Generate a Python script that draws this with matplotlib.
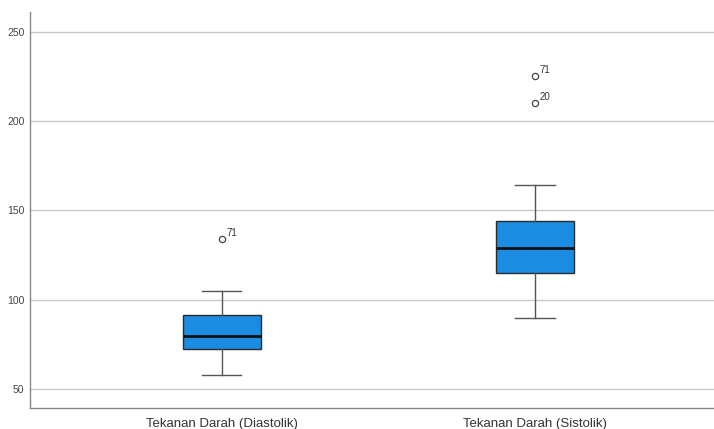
import matplotlib.pyplot as plt

plt.rcParams["font.family"] = ["Liberation Sans", "DejaVu Sans"]

# box stats
categories = ["Tekanan Darah (Diastolik)", "Tekanan Darah (Sistolik)"]
q1 = [72.5, 115]
median = [80, 129]
q3 = [91.5, 144]
whisker_low = [58, 90]
whisker_high = [105, 164]
outliers = [[134], [225, 210]]
outlier_ids = [["71"], ["71", "20"]]
y_ticks = [50, 100, 150, 200, 250]

stats = []
for i, name in enumerate(categories):
    stats.append({
        "label": name,
        "q1": q1[i], "med": median[i], "q3": q3[i],
        "whislo": whisker_low[i], "whishi": whisker_high[i],
        "fliers": outliers[i],
    })

fig = plt.figure(figsize=(7.14, 4.29), dpi=100)
ax = fig.add_axes([0.042, 0.049, 0.958, 0.923])

ax.set_axisbelow(True)
ax.yaxis.grid(True, color="#c8c8c8", linewidth=1)

positions = [1, 2]
ax.bxp(stats, positions=positions, widths=0.25, patch_artist=True,
       boxprops=dict(facecolor="#1a8de3", edgecolor="#2b2b2b", linewidth=1),
       medianprops=dict(color="#111111", linewidth=2),
       whiskerprops=dict(color="#555555", linewidth=1),
       capprops=dict(color="#555555", linewidth=1),
       capwidths=0.125,
       flierprops=dict(marker="o", markersize=4.5, markerfacecolor="white",
                       markeredgecolor="#444444", markeredgewidth=0.9))

for pos, vals, ids in zip(positions, outliers, outlier_ids):
    for v, label in zip(vals, ids):
        ax.annotate(label, (pos, v), xytext=(3, 2.5), textcoords="offset points",
                    fontsize=7, color="#333333")

ax.set_xlim(0.387, 2.572)
ax.set_ylim(39.5, 261)
ax.set_yticks(y_ticks)
ax.set_xticks(positions)
ax.set_xticklabels(categories)
ax.tick_params(axis="y", labelsize=7.5, colors="#444444", length=0, pad=4)
ax.tick_params(axis="x", labelsize=9.5, colors="#333333", length=0, pad=7)

for side in ["top", "right"]:
    ax.spines[side].set_visible(False)
for side in ["left", "bottom"]:
    ax.spines[side].set_color("#888888")
    ax.spines[side].set_linewidth(1)

fig.savefig("out.png", dpi=100)
